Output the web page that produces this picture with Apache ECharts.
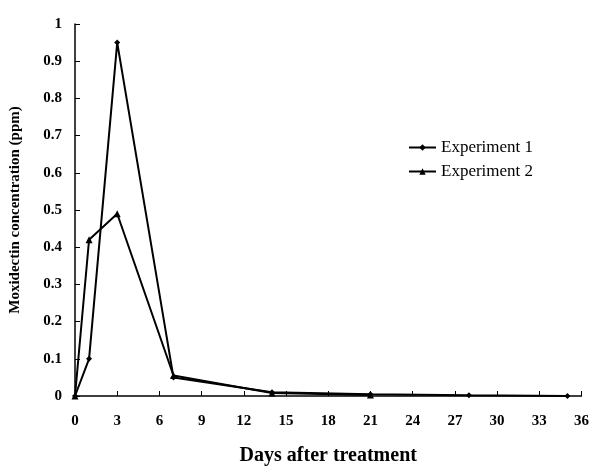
<!DOCTYPE html>
<html>
<head>
<meta charset="utf-8">
<script src="https://cdn.jsdelivr.net/npm/echarts@6/dist/echarts.min.js"></script>
<style>
  html, body { margin: 0; padding: 0; background: #fff; }
  #chart { width: 592px; height: 471px; }
</style>
</head>
<body>
<div id="chart"></div>
<script>
// days after treatment and concentrations (ppm)
const days1 = [0, 1, 3, 7, 14, 21, 28, 35];
const exp1 = [0, 0.1, 0.95, 0.05, 0.01, 0.005, 0.002, 0];
const days2 = [0, 1, 3, 7, 14, 21];
const exp2 = [0, 0.42, 0.49, 0.055, 0.008, 0.003];
const xTicks = [0, 3, 6, 9, 12, 15, 18, 21, 24, 27, 30, 33, 36];

const font = "'Liberation Serif', 'DejaVu Serif', serif";
let chart = echarts.init(document.getElementById("chart"));

chart.setOption({
  animation: false,
  backgroundColor: "#fff",
  grid: { left: 75, right: 6, top: 24, bottom: 74 },
  legend: {
    orient: "vertical",
    left: 403,
    top: 134,
    itemWidth: 27,
    itemHeight: 8,
    itemGap: 7,
    textStyle: { fontFamily: font, fontSize: 17, color: "#000" },
    data: ["Experiment 1", "Experiment 2"]
  },
  xAxis: {
    type: "value",
    min: 0,
    max: 36,
    interval: 3,
    name: "Days after treatment",
    nameLocation: "middle",
    nameGap: 50,
    nameTextStyle: { fontFamily: font, fontSize: 20, fontWeight: "bold", color: "#000" },
    axisLine: { lineStyle: { color: "#000", width: 1.5 } },
    axisTick: { inside: true, length: 5, lineStyle: { color: "#000" } },
    axisLabel: {
      fontFamily: font, fontSize: 15, fontWeight: "bold", color: "#000", margin: 18,
      formatter: v => (xTicks.indexOf(v) >= 0 ? String(v) : "")
    },
    splitLine: { show: false }
  },
  yAxis: {
    type: "value",
    min: 0,
    max: 1,
    interval: 0.1,
    name: "Moxidectin concentration (ppm)",
    nameLocation: "middle",
    nameGap: 52,
    nameRotate: 90,
    nameTextStyle: { fontFamily: font, fontSize: 15, fontWeight: "bold", color: "#000" },
    axisLine: { show: true, lineStyle: { color: "#000", width: 1.5 } },
    axisTick: { show: true, inside: true, length: 5, lineStyle: { color: "#000" } },
    axisLabel: {
      fontFamily: font, fontSize: 15, fontWeight: "bold", color: "#000", margin: 13,
      formatter: v => (v === 0 || v === 1 ? String(v) : v.toFixed(1))
    },
    splitLine: { show: false }
  },
  series: [
    {
      name: "Experiment 1",
      type: "line",
      data: days1.map((d, i) => [d, exp1[i]]),
      symbol: "diamond",
      symbolSize: 6,
      itemStyle: { color: "#000" },
      lineStyle: { color: "#000", width: 2 }
    },
    {
      name: "Experiment 2",
      type: "line",
      data: days2.map((d, i) => [d, exp2[i]]),
      symbol: "triangle",
      symbolSize: 7,
      itemStyle: { color: "#000" },
      lineStyle: { color: "#000", width: 2 }
    }
  ]
});
</script>
</body>
</html>
